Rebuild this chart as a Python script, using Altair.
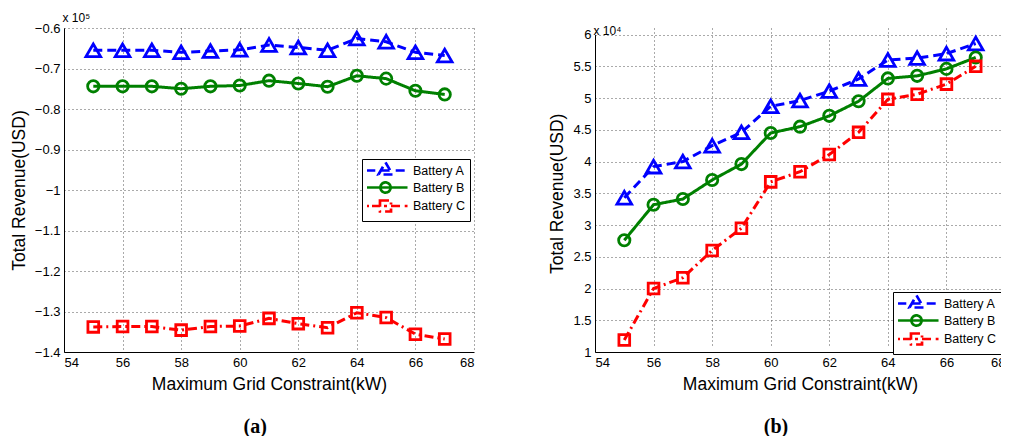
import altair as alt
import pandas as pd

# ---------------- data ----------------
x_vals = [55, 56, 57, 58, 59, 60, 61, 62, 63, 64, 65, 66, 67]
series_names = ["Battery A", "Battery B", "Battery C"]

# panel (a): values in units of 1e5 USD
a_A = [-0.655, -0.655, -0.655, -0.660, -0.657, -0.654, -0.642, -0.648, -0.655, -0.626, -0.634, -0.660, -0.668]
a_B = [-0.744, -0.744, -0.744, -0.750, -0.744, -0.742, -0.730, -0.737, -0.745, -0.718, -0.725, -0.755, -0.764]
a_C = [-1.338, -1.337, -1.337, -1.346, -1.337, -1.336, -1.317, -1.330, -1.340, -1.303, -1.315, -1.356, -1.368]

# panel (b): values in units of 1e4 USD
b_A = [3.43, 3.92, 4.00, 4.25, 4.46, 4.87, 4.96, 5.11, 5.30, 5.60, 5.63, 5.70, 5.86]
b_B = [2.76, 3.32, 3.41, 3.71, 3.96, 4.45, 4.55, 4.72, 4.95, 5.31, 5.35, 5.46, 5.64]
b_C = [1.19, 2.00, 2.17, 2.60, 2.95, 3.68, 3.84, 4.11, 4.46, 4.98, 5.06, 5.22, 5.50]

x_ticks = [54, 56, 58, 60, 62, 64, 66, 68]
a_y_ticks = [-1.4, -1.3, -1.2, -1.1, -1.0, -0.9, -0.8, -0.7, -0.6]
b_y_ticks = [1, 1.5, 2, 2.5, 3, 3.5, 4, 4.5, 5, 5.5, 6]

x_title = "Maximum Grid Constraint(kW)"
y_title = "Total Revenue(USD)"

# ---------------- styles ----------------
colors = ["#0000ff", "#008000", "#ff0000"]
dashes = [[9, 5], [1, 0], [9, 4, 2, 4]]
marker_shapes = ["triangle-up", "circle", "square"]
marker_sizes = [215, 128, 115]
legend_paths = [
    "M-1.08,0H0.3M1.2,0H2.8M3.7,0H5.67M2,-1.35L3.167,0.67L0.833,0.67Z",
    "M-1.08,0H5.67M2.85,0A0.85,0.85 0 1,1 1.15,0A0.85,0.85 0 1,1 2.85,0Z",
    "M-1.08,0H-0.75M-0.25,0H1.08M1.75,0H2.25M2.92,0H4.6M5.2,0H5.67M1.08,-0.92H2.92V0.92H1.08Z",
]
FONT = "Liberation Sans"
H = 324


def panel(vals, ydom, yticks, yrange, title, legend_xy, caption, caption_dx):
    df = pd.DataFrame({
        "x": x_vals * 3,
        "y": vals[0] + vals[1] + vals[2],
        "series": [s for s in series_names for _ in x_vals],
    })
    base = alt.Chart(df)
    xenc = alt.X("x:Q", scale=alt.Scale(domain=[54, 68], nice=False, zero=False),
                 axis=alt.Axis(values=x_ticks, title=x_title, format="d"))
    yenc = alt.Y("y:Q", scale=alt.Scale(domain=ydom, nice=False, zero=False, range=yrange),
                 axis=alt.Axis(values=yticks, title=y_title, format="~g"))
    cscale = alt.Scale(domain=series_names, range=colors)
    leg = alt.Legend(
        title=None, orient="none", legendX=legend_xy[0], legendY=legend_xy[1],
        strokeColor="black", fillColor="white", padding=4, rowPadding=-3.5,
        labelFont=FONT, labelFontSize=12.5, labelColor="black", labelOffset=32,
        symbolSize=144, symbolStrokeWidth=2.7, symbolOpacity=1,
    )
    legend_layer = base.transform_filter("false").mark_point(
        filled=False, strokeWidth=2.7, opacity=1
    ).encode(
        color=alt.Color("series:N", scale=cscale, legend=leg),
        shape=alt.Shape("series:N", scale=alt.Scale(domain=series_names, range=legend_paths), legend=leg),
    )
    lines = base.mark_line(strokeWidth=3).encode(
        x=xenc, y=yenc,
        color=alt.Color("series:N", scale=cscale, legend=None),
        strokeDash=alt.StrokeDash("series:N", scale=alt.Scale(domain=series_names, range=dashes), legend=None),
    )
    pts = []
    for s, sh, sz, c in zip(series_names, marker_shapes, marker_sizes, colors):
        pts.append(
            base.transform_filter(alt.datum.series == s)
            .mark_point(shape=sh, size=sz, filled=False, strokeWidth=2.8, opacity=1, color=c)
            .encode(x=xenc, y=yenc)
        )
    layer = alt.layer(legend_layer, lines, *pts).properties(
        width=410, height=H, title=title
    )
    return alt.vconcat(layer, title=alt.TitleParams(
        caption, orient="bottom", anchor="middle", font="Liberation Serif",
        fontSize=20, fontWeight="bold", color="black", offset=24, dx=caption_dx,
    ))


title_a = alt.TitleParams("x 10⁵", anchor="start", frame="group", fontSize=12,
                          fontWeight="normal", font=FONT, color="black", offset=-3, dx=-1.5)
title_b = alt.TitleParams("x 10⁴", anchor="start", frame="group", fontSize=12,
                          fontWeight="normal", font=FONT, color="black", offset=-9.6, dx=-1.5)

pa = panel([a_A, a_B, a_C], [-1.4, -0.6], a_y_ticks, [H, 0], title_a, (298, 131), "(a)", 13)
pb = panel([b_A, b_B, b_C], [1, 6], b_y_ticks, [H, 6.6], title_b, (298, 264), "(b)", -1)

chart = alt.hconcat(pa, pb, spacing=74).resolve_scale(
    color="independent", shape="independent", strokeDash="independent"
).configure_view(
    strokeWidth=0
).configure_axis(
    labelFont=FONT, labelFontSize=13, labelColor="black", labelPadding=4,
    titleFont=FONT, titleFontSize=17.5, titleFontWeight="normal", titleColor="black",
    titlePadding=6, ticks=False, domainColor="black", domainWidth=1,
    grid=True, gridColor="#555555", gridDash=[1, 3], gridWidth=1, gridOpacity=1,
).properties(
    padding={"left": 2, "top": 4, "right": -4, "bottom": 0}
)

chart.save("out.html", embed_options={"renderer": "svg", "actions": False})
